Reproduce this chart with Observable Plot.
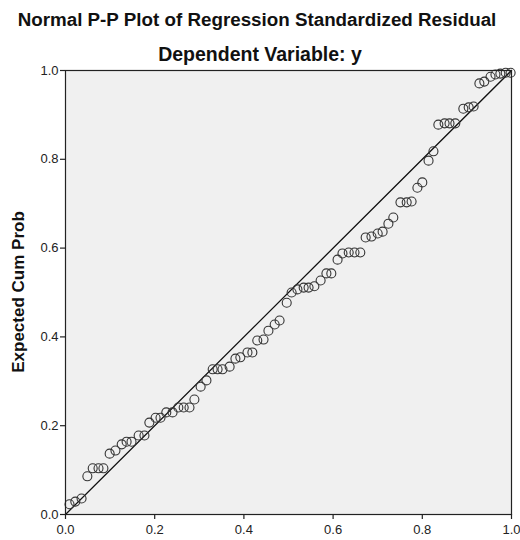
<!DOCTYPE html>
<html>
<head>
<meta charset="utf-8">
<script src="https://cdn.jsdelivr.net/npm/d3@7"></script>
<script src="https://cdn.jsdelivr.net/npm/@observablehq/plot@0.6"></script>
<style>
  html, body { margin: 0; padding: 0; background: #fff; }
  #wrap { position: relative; width: 520px; height: 540px; overflow: hidden; font-family: "Liberation Sans", Arial, sans-serif; }
  .ttl { position: absolute; left: 0; width: 520px; text-align: center; font-weight: bold; color: #111; line-height: 1; white-space: nowrap; }
  #title { top: 11px; left: -3px; font-size: 18.8px; }
  #subtitle { top: 45px; font-size: 19.5px; }
  #ylab { position: absolute; left: 18px; top: 292px; transform: translate(-50%, -50%) rotate(-90deg); font-weight: bold; font-size: 17px; color: #111; white-space: nowrap; line-height: 1; }
  #chart { position: absolute; left: 0; top: 0; }
</style>
</head>
<body>
<div id="wrap">
  <div id="chart"></div>
  <div class="ttl" id="title">Normal P-P Plot of Regression Standardized Residual</div>
  <div class="ttl" id="subtitle">Dependent Variable: y</div>
  <div id="ylab">Expected Cum Prob</div>
</div>
<script>
const observed = [
  0.009, 0.022, 0.036, 0.049, 0.061, 0.074, 0.085, 0.099, 0.112, 0.126,
  0.137, 0.148, 0.164, 0.177, 0.188, 0.202, 0.213, 0.226, 0.240, 0.253,
  0.265, 0.278, 0.289, 0.303, 0.316, 0.330, 0.341, 0.352, 0.368, 0.381,
  0.392, 0.408, 0.419, 0.430, 0.444, 0.455, 0.469, 0.480, 0.496, 0.507,
  0.520, 0.534, 0.545, 0.558, 0.572, 0.585, 0.596, 0.610, 0.621, 0.635,
  0.648, 0.661, 0.673, 0.686, 0.700, 0.711, 0.724, 0.735, 0.751, 0.765,
  0.776, 0.789, 0.800, 0.814, 0.825, 0.836, 0.850, 0.861, 0.874, 0.892,
  0.904, 0.915, 0.928, 0.939, 0.953, 0.964, 0.975, 0.987, 0.998
];
const expected = [
  0.023, 0.029, 0.036, 0.086, 0.104, 0.104, 0.104, 0.137, 0.144, 0.158,
  0.164, 0.164, 0.178, 0.178, 0.207, 0.218, 0.218, 0.230, 0.230, 0.241,
  0.241, 0.241, 0.259, 0.288, 0.302, 0.327, 0.327, 0.327, 0.333, 0.351,
  0.354, 0.365, 0.365, 0.392, 0.394, 0.414, 0.428, 0.437, 0.477, 0.500,
  0.507, 0.511, 0.511, 0.514, 0.527, 0.543, 0.543, 0.574, 0.588, 0.590,
  0.590, 0.590, 0.624, 0.626, 0.633, 0.637, 0.655, 0.669, 0.703, 0.703,
  0.705, 0.736, 0.748, 0.797, 0.818, 0.878, 0.881, 0.881, 0.881, 0.914,
  0.917, 0.919, 0.971, 0.975, 0.986, 0.991, 0.993, 0.995, 0.995
];
const tickValues = [0, 0.2, 0.4, 0.6, 0.8, 1.0];
const refLine = [0, 1];

const points = observed.map((x, i) => ({x, y: expected[i]}));
const diag = refLine.map(v => ({x: v, y: v}));
const fmt = d3.format(".1f");

const chart = Plot.plot({
  width: 520,
  height: 540,
  marginTop: 70,
  marginRight: 9,
  marginBottom: 26,
  marginLeft: 65,
  style: { fontFamily: "'Liberation Sans', Arial, sans-serif", fontSize: "13px", color: "#222", background: "transparent" },
  x: { domain: [0, 1] },
  y: { domain: [0, 1] },
  marks: [
    Plot.frame({ fill: "#f0f0f0", stroke: null }),
    Plot.line(diag, { x: "x", y: "y", stroke: "#111", strokeWidth: 1.3 }),
    Plot.dot(points, { x: "x", y: "y", r: 4.5, stroke: "#333", strokeWidth: 1.1, fill: "none" }),
    Plot.frame({ stroke: "#222", strokeWidth: 1.2 }),
    Plot.axisX({ ticks: tickValues, tickFormat: fmt, tickSize: 5, tickPadding: 5, label: null, stroke: "#222", strokeWidth: 1.2 }),
    Plot.axisY({ ticks: tickValues, tickFormat: fmt, tickSize: 5, tickPadding: 2, label: null, stroke: "#222", strokeWidth: 1.2 })
  ]
});
document.getElementById("chart").appendChild(chart);
</script>
</body>
</html>
